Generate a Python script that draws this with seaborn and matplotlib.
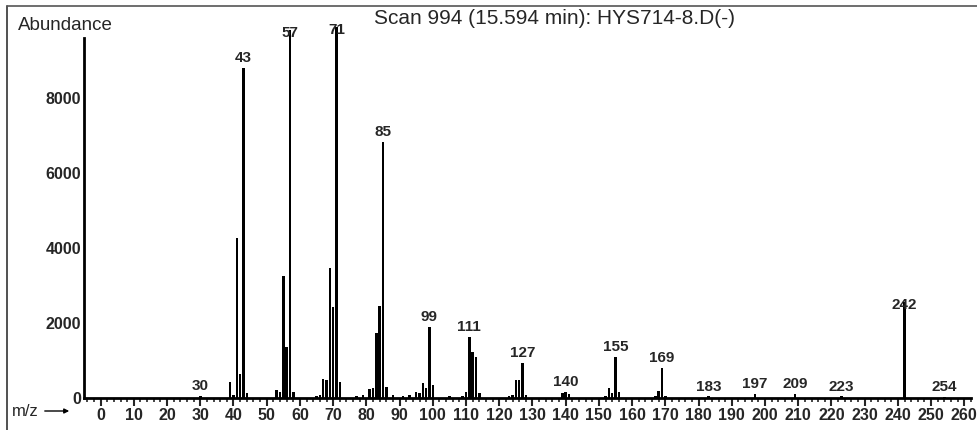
import matplotlib

matplotlib.use("Agg")

import matplotlib.pyplot as plt
import numpy as np
import pandas as pd
import seaborn as sns
from matplotlib.lines import Line2D
from matplotlib.ticker import MultipleLocator

# spectrum (m/z, abundance)
mz = [30, 39, 40, 41, 42, 43, 44, 53, 54, 55, 56, 57, 58, 65, 66, 67, 68, 69, 70, 71,
      72, 77, 79, 81, 82, 83, 84, 85, 86, 88, 91, 93, 95, 96, 97, 98, 99, 100, 105,
      109, 110, 111, 112, 113, 114, 123, 124, 125, 126, 127, 128, 139, 140, 141, 152,
      153, 154, 155, 156, 167, 168, 169, 170, 183, 197, 209, 223, 242, 254]
abundance = [60, 430, 80, 4270, 640, 8800, 120, 210, 150, 3250, 1360, 9800, 150, 60, 80,
             500, 480, 3470, 2430, 9900, 430, 50, 80, 250, 270, 1730, 2450, 6830, 290, 80,
             60, 80, 160, 120, 400, 270, 1890, 350, 50, 60, 160, 1630, 1230, 1090, 120, 60,
             80, 480, 480, 930, 80, 120, 160, 110, 60, 270, 120, 1100, 160, 60, 180, 800,
             60, 40, 100, 100, 40, 2550, 30]
labelled = [30, 43, 57, 71, 85, 99, 111, 127, 140, 155, 169, 183, 197, 209, 223, 242, 254]
y_ticks = [0, 2000, 4000, 6000, 8000]
x_ticks = list(range(0, 261, 10))

title = "Scan 994 (15.594 min): HYS714-8.D(-)"

# labels that sit on top of their own peak
overlap = {57, 71, 242}

sns.set_style("white")
plt.rcParams["font.family"] = ["Liberation Sans", "DejaVu Sans"]

spec = pd.DataFrame({"mz": mz, "abundance": abundance})

fig = plt.figure(figsize=(9.77, 4.30), dpi=100)
ax = fig.add_axes([84 / 977, 32 / 430, 887 / 977, 398 / 430])

sns.histplot(data=spec, x="mz", weights="abundance", discrete=True, shrink=0.75,
             color="black", alpha=1, linewidth=0, ax=ax)

ax.set_xlim(-5, 262)
ax.set_ylim(0, 10613)
ax.set_xlabel("")
ax.set_ylabel("")

for s in ["top", "right"]:
    ax.spines[s].set_visible(False)
ax.spines["left"].set_bounds(0, 9600)
for s in ["left", "bottom"]:
    ax.spines[s].set_linewidth(2)
    ax.spines[s].set_color("black")

ax.set_yticks(y_ticks)
ax.set_yticklabels([str(v) for v in y_ticks], fontsize=11.5, fontweight="bold")
ax.tick_params(axis="y", length=0, pad=2)

ax.set_xticks(x_ticks)
ax.set_xticklabels([str(v) for v in x_ticks], fontsize=11.5, fontweight="bold")
ax.xaxis.set_minor_locator(MultipleLocator(2))
ax.tick_params(axis="x", which="major", direction="out", length=6, width=1.5, pad=1, bottom=True)
ax.tick_params(axis="x", which="minor", direction="out", length=3, width=1.2, bottom=True)

lookup = dict(zip(mz, abundance))
for m in labelled:
    h = lookup[m]
    if m in overlap:
        ax.annotate(str(m), (m, h), xytext=(0, -2), textcoords="offset points",
                    ha="center", va="center", fontsize=11, fontweight="bold")
    else:
        ax.annotate(str(m), (m, h), xytext=(0, 2), textcoords="offset points",
                    ha="center", va="bottom", fontsize=11, fontweight="bold")

fig.text(18 / 977, 1 - 25 / 430, "Abundance", fontsize=13.5, va="center", ha="left")
fig.text(374 / 977, 1 - 18 / 430, title, fontsize=15, va="center", ha="left")

fig.text(12 / 977, 1 - 411 / 430, "m/z", fontsize=12, va="center", ha="left")
fig.add_artist(matplotlib.patches.FancyArrowPatch(
    (42 / 977, 1 - 411 / 430), (72 / 977, 1 - 411 / 430), transform=fig.transFigure,
    arrowstyle="-|>", mutation_scale=7, lw=1, color="black"))

# outer frame (left and top edges of the scanned box)
fig.add_artist(Line2D([7 / 977, 7 / 977], [0, 1 - 6 / 430], transform=fig.transFigure,
                      color="#333333", lw=1.2))
fig.add_artist(Line2D([7 / 977, 1], [1 - 6 / 430, 1 - 6 / 430], transform=fig.transFigure,
                      color="#555555", lw=1.2))

fig.savefig("out.png", dpi=100)
